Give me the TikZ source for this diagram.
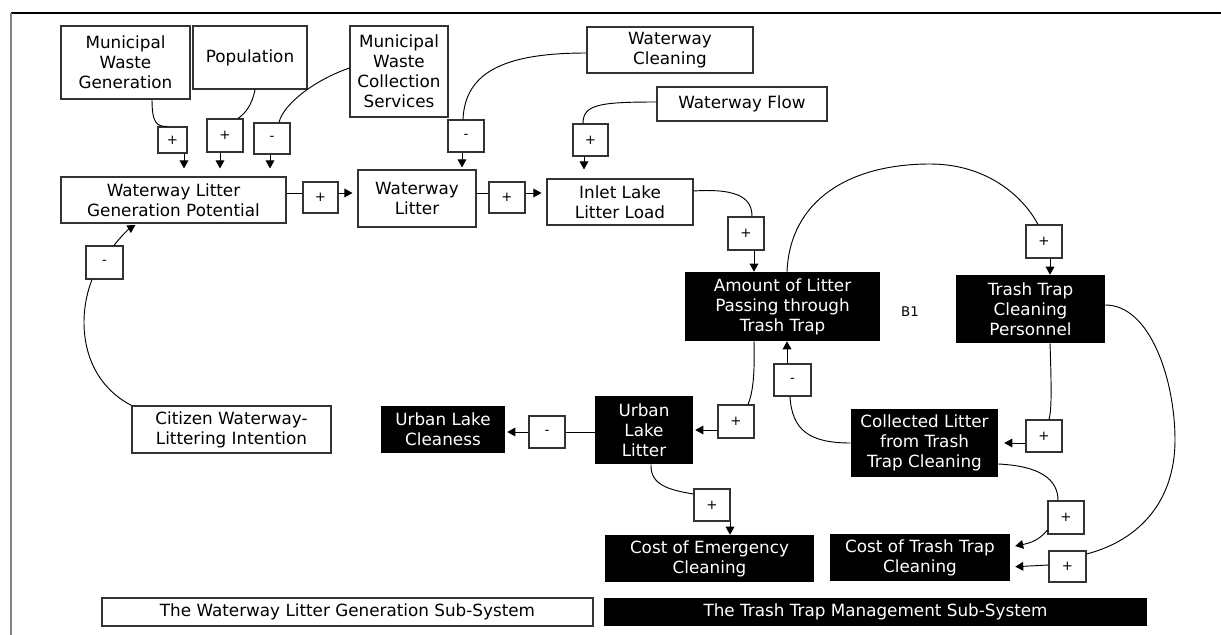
\documentclass[tikz,border=0pt]{standalone}
\usepackage{fontspec}
\setmainfont{DejaVu Sans}
\usetikzlibrary{arrows.meta,calc}
\begin{document}
\begin{tikzpicture}[x=0.75pt,y=-0.75pt,
  sz/.style 2 args={minimum width=#1*0.75pt, minimum height=#2*0.75pt},
  wbox/.style={draw=black!80, line width=0.8pt, fill=white, align=center, inner sep=0pt, font=\fontsize{12.6}{15}\selectfont},
  bbox/.style={fill=black, text=white, align=center, inner sep=0pt, font=\fontsize{12.6}{15}\selectfont},
  sgn/.style={draw=black!80, line width=0.8pt, fill=white, inner sep=0pt, font=\fontsize{10}{12}\selectfont},
  link/.style={line width=0.7pt},
  arr/.style={link, -{Triangle[length=6pt,width=6.5pt]}},
  gap/.style={shorten >=#1*0.75pt},
]
\useasboundingbox (0,0) rectangle (1221,635);
% frame
\draw[line width=1pt] (11,13) -- (1221,13);
\draw[gray, line width=1.2pt] (11,13) -- (11,635);

% variables
\node[wbox, sz={129}{73}] (mwg) at (125.5,62.5) {Municipal\\Waste\\Generation};
\node[wbox, sz={114}{63}] (pop) at (250,57.5) {Population};
\node[wbox, sz={98}{91}] (mwcs) at (399,71.5) {Municipal\\Waste\\Collection\\Services};
\node[wbox, sz={166}{46}] (wc) at (670,50) {Waterway\\Cleaning};
\node[wbox, sz={170}{34}] (wf) at (742,104) {Waterway Flow};
\node[wbox, sz={225}{46}] (wlgp) at (173.5,200) {Waterway Litter\\Generation Potential};
\node[wbox, sz={118}{57}] (wl) at (417,198.5) {Waterway\\Litter};
\node[wbox, sz={146}{46}] (illl) at (620,202) {Inlet Lake\\Litter Load};
\node[bbox, sz={195}{69}] (amt) at (782.5,306.5) {Amount of Litter\\Passing through\\Trash Trap};
\node[bbox, sz={149}{68}] (ttcp) at (1030.5,309) {Trash Trap\\Cleaning\\Personnel};
\node[font=\fontsize{10}{12}\selectfont] (b1) at (910,312) {B1};
\node[bbox, sz={147}{68}] (cl) at (924.5,443) {Collected Litter\\from Trash\\Trap Cleaning};
\node[bbox, sz={98}{68}] (ull) at (644,430) {Urban\\Lake\\Litter};
\node[bbox, sz={124}{47}] (ulc) at (443,429.5) {Urban Lake\\Cleaness};
\node[bbox, sz={209}{47}] (cec) at (709.5,558.5) {Cost of Emergency\\Cleaning};
\node[bbox, sz={180}{47}] (cttc) at (920,557.5) {Cost of Trash Trap\\Cleaning};
\node[wbox, sz={199}{47}] (cit) at (231.5,429.5) {Citizen Waterway-\\Littering Intention};
\node[wbox, sz={491}{28}] (leg1) at (347.5,612) {The Waterway Litter Generation Sub-System};
\node[bbox, sz={543}{28}] (leg2) at (875.5,612) {The Trash Trap Management Sub-System};

% polarity signs
\node[sgn, sz={29}{26}] (s1) at (172.5,140) {+};
\node[sgn, sz={36}{33}] (s2) at (225,135.5) {+};
\node[sgn, sz={36}{31}] (s3) at (272,138.5) {-};
\node[sgn, sz={36}{32}] (s4) at (466,136) {-};
\node[sgn, sz={35}{32}] (s5) at (590.5,140) {+};
\node[sgn, sz={35}{31}] (s6) at (320.5,197.5) {+};
\node[sgn, sz={36}{31}] (s7) at (507,197.5) {+};
\node[sgn, sz={36}{33}] (s8) at (746,233.5) {+};
\node[sgn, sz={36}{33}] (s9) at (1044,241.5) {+};
\node[sgn, sz={37}{32}] (s10) at (792.5,380) {-};
\node[sgn, sz={36}{33}] (s11) at (736,421.5) {+};
\node[sgn, sz={36}{32}] (s12) at (1044,436) {+};
\node[sgn, sz={36}{32}] (s13) at (547,432) {-};
\node[sgn, sz={36}{32}] (s14) at (712,505) {+};
\node[sgn, sz={36}{33}] (s15) at (1066,517.5) {+};
\node[sgn, sz={37}{31}] (s16) at (1067.5,566.5) {+};
\node[sgn, sz={37}{33}] (s17) at (104.5,262.5) {-};

% connectors
\draw[link] ($(mwg.south)+(26.5,0)$) .. controls +(0,24) and +(-10,0) .. ($(s1.north)+(-5.5,0)$);
\draw[arr, gap=8] ($(s1.south)+(11.5,0)$) -- ($(wlgp.north)+(10.5,0)$);
\draw[link] ($(pop.south)+(5,0)$) .. controls +(-3,16) and +(7,-5) .. ($(s2.north)+(13,0)$);
\draw[arr, gap=8] ($(s2.south)+(-5,0)$) -- ($(wlgp.north)+(46.5,0)$);
\draw[link] ($(mwcs.west)+(0,-3.5)$) .. controls +(-35,12) and +(4,-18) .. ($(s3.north)+(7,0)$);
\draw[arr, gap=8] ($(s3.south)+(-2,0)$) -- ($(wlgp.north)+(96.5,0)$);
\draw[link] ($(wc.west)+(0,3)$) .. controls +(-77,0) and +(2,-50) .. ($(s4.north)+(-3,0)$);
\draw[arr, gap=2] ($(s4.south)+(-4,0)$) -- ($(wl.north)+(45,0)$);
\draw[link] ($(wf.west)+(0,-2)$) .. controls +(-57,0) and +(0,-19) .. ($(s5.north)+(-7.5,0)$);
\draw[arr, gap=9] ($(s5.south)+(-6.5,0)$) -- ($(illl.north)+(-36,0)$);
\draw[link] ($(wlgp.east)+(0,-7)$) -- ($(s6.west)+(0,-4.5)$);
\draw[arr, gap=5] ($(s6.east)+(0,-4.5)$) -- ($(wl.west)+(0,-5.5)$);
\draw[link] ($(wl.east)+(0,-5.5)$) -- ($(s7.west)+(0,-4.5)$);
\draw[arr, gap=5] ($(s7.east)+(0,-4.5)$) -- ($(illl.west)+(0,-9)$);
\draw[link] ($(illl.east)+(0,-11)$) .. controls +(47,-3) and +(0,-17) .. ($(s8.north)+(6,0)$);
\draw[arr] ($(s8.south)+(8,0)$) -- ($(amt.north)+(-28.5,0)$);
\draw[link] ($(amt.north)+(4.5,0)$) .. controls +(3,-72) and +(-80,0) .. (930,164)
  .. controls +(55,0) and +(-16,-30) .. ($(s9.north)+(-6,0)$);
\draw[arr] ($(s9.south)+(6,0)$) -- ($(ttcp.north)+(19.5,0)$);
\draw[link] (cl.west) .. controls +(-41,0) and +(2,34) .. ($(s10.south)+(-2.5,0)$);
\draw[arr] ($(s10.north)+(-5.5,0)$) -- ($(amt.south)+(4.5,0)$);
\draw[link] ($(amt.south)+(-28.5,0)$) .. controls +(1,39) and +(4,-10) .. ($(s11.north)+(12,0)$);
\draw[arr, gap=2] ($(s11.west)+(0,8.5)$) -- (ull.east);
\draw[link] ($(ttcp.south)+(19.5,0)$) .. controls +(2,57) and +(2,-8) .. ($(s12.north)+(5,0)$);
\draw[arr, gap=6] ($(s12.west)+(0,7)$) -- (cl.east);
\draw[link] ($(ull.west)+(0,2)$) -- (s13.east);
\draw[arr, gap=2] (s13.west) -- ($(ulc.east)+(0,2.5)$);
\draw[link] ($(ull.south)+(7,0)$) .. controls +(-1,21) and +(-24,-4) .. ($(s14.west)+(0,-11)$);
\draw[arr] ($(s14.south)+(18,0)$) -- ($(cec.north)+(20.5,0)$);
\draw[link] ($(cl.east)+(0,21)$) .. controls +(42,2) and +(0,-21) .. ($(s15.north)+(-8,0)$);
\draw[arr, gap=5] ($(s15.west)+(0,12.5)$) .. controls +(-8,10) and +(20,-4) .. ($(cttc.east)+(0,-10.5)$);
\draw[link] ($(ttcp.east)+(0,-4)$) .. controls +(45,0) and +(0,-60) .. (1175,440)
  .. controls +(0,60) and +(54,-14) .. ($(s16.east)+(0,-12.5)$);
\draw[arr, gap=5] ($(s16.west)+(0,-1.5)$) -- ($(cttc.east)+(0,9.5)$);
\draw[link] (cit.north west) .. controls +(-50,-26) and +(-16,41) .. ($(s17.south)+(-12.5,0)$);
\draw[arr, gap=3] ($(s17.north)+(9.5,0)$) .. controls +(6,-8) and +(-10,6) .. ($(wlgp.south)+(-35.5,0)$);
\end{tikzpicture}
\end{document}
